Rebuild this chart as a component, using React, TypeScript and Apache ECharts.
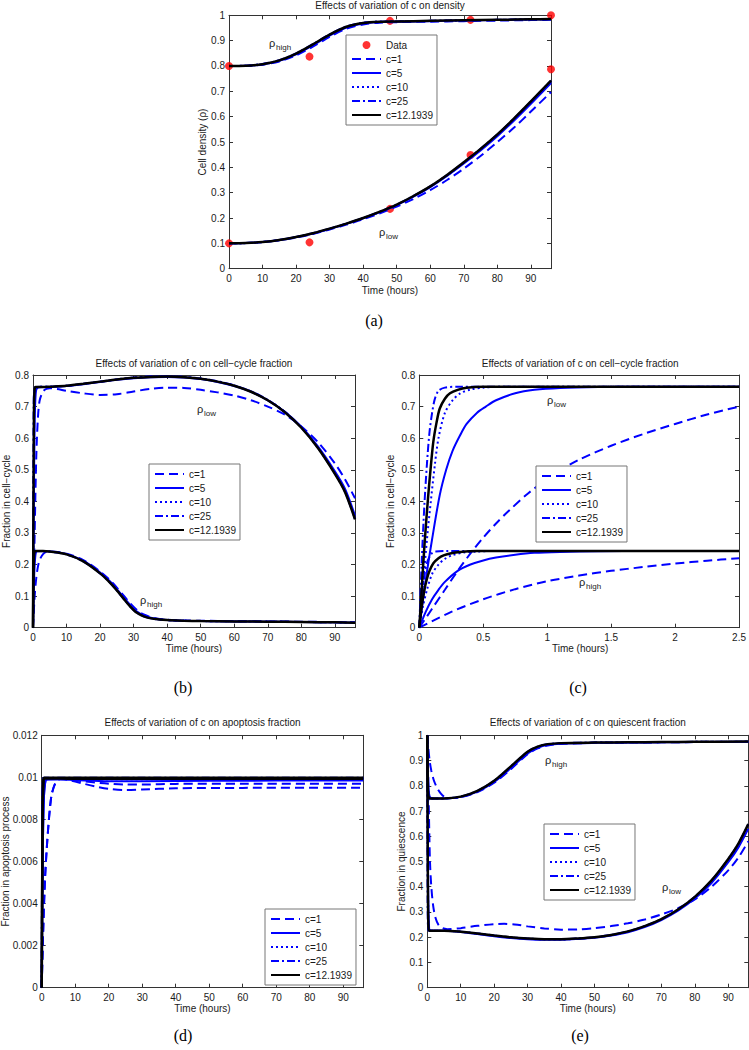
import React, { useEffect, useRef } from "react";
import * as echarts from "echarts";

type Pt = [number, number];

// ---------- (a) cell density ----------
const aDataHigh: Pt[] = [[0, 0.8], [24, 0.837], [48, 0.978], [72, 0.982], [96, 1.0]];
const aDataLow: Pt[] = [[0, 0.1], [24, 0.104], [48, 0.236], [72, 0.449], [96, 0.787]];
const aHighFit: Pt[] = [[0, 0.8], [5, 0.801], [10, 0.807], [15, 0.822], [20, 0.849], [25, 0.885], [30, 0.924], [35, 0.955], [40, 0.97], [45, 0.975], [50, 0.976], [60, 0.978], [70, 0.98], [80, 0.982], [90, 0.984], [96, 0.985]];
const aHighC1: Pt[] = [[0, 0.8], [5, 0.8], [10, 0.805], [15, 0.818], [20, 0.842], [25, 0.876], [30, 0.915], [35, 0.947], [40, 0.964], [45, 0.971], [50, 0.973], [60, 0.975], [70, 0.977], [80, 0.979], [90, 0.981], [96, 0.982]];
const aHighC5: Pt[] = [[0, 0.8], [5, 0.801], [10, 0.806], [15, 0.82], [20, 0.846], [25, 0.881], [30, 0.92], [35, 0.952], [40, 0.968], [45, 0.974], [50, 0.975], [60, 0.977], [70, 0.979], [80, 0.981], [90, 0.983], [96, 0.984]];
const aHighC10: Pt[] = [[0, 0.8], [5, 0.801], [10, 0.807], [15, 0.821], [20, 0.848], [25, 0.884], [30, 0.923], [35, 0.954], [40, 0.97], [45, 0.975], [50, 0.976], [60, 0.978], [70, 0.98], [80, 0.982], [90, 0.984], [96, 0.985]];
const aHighC25: Pt[] = [[0, 0.8], [5, 0.801], [10, 0.808], [15, 0.823], [20, 0.85], [25, 0.886], [30, 0.925], [35, 0.956], [40, 0.971], [45, 0.975], [50, 0.976], [60, 0.978], [70, 0.98], [80, 0.982], [90, 0.984], [96, 0.985]];
const aLowFit: Pt[] = [[0, 0.1], [5, 0.101], [10, 0.105], [15, 0.113], [20, 0.125], [25, 0.14], [30, 0.158], [35, 0.178], [40, 0.2], [45, 0.225], [50, 0.253], [55, 0.287], [60, 0.325], [65, 0.37], [70, 0.42], [75, 0.473], [80, 0.53], [85, 0.593], [90, 0.66], [96, 0.742]];
const aLowC1: Pt[] = [[0, 0.1], [5, 0.101], [10, 0.105], [15, 0.112], [20, 0.123], [25, 0.137], [30, 0.155], [35, 0.174], [40, 0.195], [45, 0.219], [50, 0.245], [55, 0.275], [60, 0.31], [65, 0.35], [70, 0.395], [75, 0.445], [80, 0.5], [85, 0.557], [90, 0.62], [96, 0.697]];
const aLowC5: Pt[] = [[0, 0.1], [5, 0.101], [10, 0.105], [15, 0.113], [20, 0.125], [25, 0.139], [30, 0.157], [35, 0.177], [40, 0.199], [45, 0.223], [50, 0.251], [55, 0.284], [60, 0.322], [65, 0.366], [70, 0.415], [75, 0.467], [80, 0.523], [85, 0.585], [90, 0.651], [96, 0.733]];
const aLowC10: Pt[] = [[0, 0.1], [5, 0.101], [10, 0.105], [15, 0.113], [20, 0.125], [25, 0.14], [30, 0.158], [35, 0.178], [40, 0.2], [45, 0.224], [50, 0.252], [55, 0.286], [60, 0.324], [65, 0.368], [70, 0.418], [75, 0.471], [80, 0.528], [85, 0.59], [90, 0.657], [96, 0.739]];
const aLowC25: Pt[] = [[0, 0.1], [5, 0.101], [10, 0.105], [15, 0.113], [20, 0.125], [25, 0.14], [30, 0.158], [35, 0.178], [40, 0.2], [45, 0.225], [50, 0.253], [55, 0.287], [60, 0.325], [65, 0.37], [70, 0.42], [75, 0.473], [80, 0.53], [85, 0.593], [90, 0.66], [96, 0.742]];

// ---------- (b) cell-cycle fraction, 0-96 h ----------
const bLowFit: Pt[] = [[0, 0], [0.15, 0.45], [0.3, 0.7], [0.5, 0.755], [0.8, 0.762], [3, 0.762], [5, 0.763], [10, 0.766], [15, 0.772], [20, 0.779], [25, 0.786], [30, 0.791], [35, 0.794], [40, 0.795], [45, 0.793], [50, 0.788], [55, 0.779], [60, 0.766], [65, 0.747], [70, 0.72], [75, 0.683], [80, 0.633], [85, 0.568], [90, 0.487], [93, 0.43], [96, 0.343]];
const bLowC1: Pt[] = [[0, 0], [0.5, 0.3], [1, 0.55], [1.5, 0.67], [2, 0.72], [3, 0.748], [4, 0.756], [5, 0.758], [7, 0.756], [10, 0.75], [15, 0.742], [20, 0.737], [25, 0.739], [30, 0.748], [35, 0.756], [40, 0.76], [45, 0.759], [50, 0.753], [55, 0.745], [60, 0.735], [65, 0.72], [70, 0.7], [75, 0.675], [80, 0.637], [85, 0.587], [90, 0.52], [93, 0.47], [96, 0.41]];
const bLowC5: Pt[] = [[0, 0], [0.25, 0.4], [0.5, 0.65], [0.8, 0.74], [1.2, 0.758], [3, 0.762], [5, 0.762], [10, 0.765], [15, 0.771], [20, 0.778], [25, 0.785], [30, 0.79], [35, 0.793], [40, 0.794], [45, 0.792], [50, 0.787], [55, 0.778], [60, 0.765], [65, 0.747], [70, 0.72], [75, 0.684], [80, 0.636], [85, 0.573], [90, 0.495], [93, 0.44], [96, 0.355]];
const bLowC10: Pt[] = [[0, 0], [0.2, 0.42], [0.4, 0.7], [0.7, 0.758], [1, 0.762], [5, 0.763], [10, 0.766], [15, 0.772], [20, 0.779], [25, 0.786], [30, 0.792], [35, 0.795], [40, 0.796], [45, 0.794], [50, 0.789], [55, 0.78], [60, 0.767], [65, 0.748], [70, 0.721], [75, 0.684], [80, 0.634], [85, 0.569], [90, 0.488], [93, 0.432], [96, 0.345]];
const bLowC25: Pt[] = [[0, 0], [0.1, 0.45], [0.2, 0.7], [0.4, 0.76], [1, 0.762], [5, 0.763], [10, 0.766], [15, 0.772], [20, 0.779], [25, 0.786], [30, 0.792], [35, 0.795], [40, 0.796], [45, 0.794], [50, 0.789], [55, 0.78], [60, 0.767], [65, 0.748], [70, 0.721], [75, 0.684], [80, 0.634], [85, 0.569], [90, 0.488], [93, 0.431], [96, 0.344]];
const bHighFit: Pt[] = [[0, 0], [0.15, 0.15], [0.3, 0.225], [0.5, 0.241], [1, 0.243], [3, 0.243], [5, 0.241], [10, 0.232], [15, 0.21], [20, 0.172], [23, 0.142], [25, 0.118], [27, 0.092], [29, 0.067], [31, 0.047], [33, 0.036], [36, 0.028], [40, 0.024], [45, 0.022], [50, 0.021], [60, 0.02], [70, 0.019], [80, 0.018], [90, 0.017], [96, 0.016]];
const bHighC1: Pt[] = [[0, 0], [0.5, 0.1], [1, 0.16], [1.5, 0.195], [2, 0.215], [3, 0.233], [4, 0.24], [5, 0.241], [10, 0.234], [15, 0.214], [20, 0.178], [23, 0.15], [25, 0.127], [27, 0.102], [29, 0.077], [31, 0.056], [33, 0.042], [36, 0.031], [40, 0.025], [45, 0.023], [50, 0.022], [60, 0.021], [70, 0.02], [80, 0.019], [90, 0.018], [96, 0.017]];
const bHighC5: Pt[] = [[0, 0], [0.25, 0.13], [0.5, 0.2], [0.8, 0.235], [1.2, 0.242], [3, 0.243], [5, 0.241], [10, 0.233], [15, 0.212], [20, 0.175], [23, 0.146], [25, 0.122], [27, 0.097], [29, 0.072], [31, 0.051], [33, 0.039], [36, 0.029], [40, 0.024], [45, 0.022], [50, 0.021], [60, 0.02], [70, 0.019], [80, 0.018], [90, 0.017], [96, 0.016]];
const bHighC10: Pt[] = [[0, 0], [0.2, 0.15], [0.4, 0.226], [0.7, 0.242], [1, 0.243], [5, 0.241], [10, 0.232], [15, 0.21], [20, 0.173], [23, 0.143], [25, 0.119], [27, 0.093], [29, 0.068], [31, 0.048], [33, 0.037], [36, 0.028], [40, 0.024], [45, 0.022], [50, 0.021], [60, 0.02], [70, 0.019], [80, 0.018], [90, 0.017], [96, 0.016]];
const bHighC25: Pt[] = [[0, 0], [0.1, 0.16], [0.2, 0.228], [0.4, 0.243], [1, 0.243], [5, 0.241], [10, 0.232], [15, 0.21], [20, 0.172], [23, 0.142], [25, 0.118], [27, 0.092], [29, 0.067], [31, 0.047], [33, 0.036], [36, 0.028], [40, 0.024], [45, 0.022], [50, 0.021], [60, 0.02], [70, 0.019], [80, 0.018], [90, 0.017], [96, 0.016]];

// ---------- (c) cell-cycle fraction, 0-2.5 h ----------
const cLowFit: Pt[] = [[0, 0], [0.02, 0.13], [0.04, 0.26], [0.07, 0.42], [0.09, 0.51], [0.11, 0.59], [0.135, 0.65], [0.16, 0.694], [0.2, 0.725], [0.24, 0.742], [0.3, 0.753], [0.37, 0.76], [0.5, 0.763], [1, 0.763], [2.5, 0.763]];
const cLowC1: Pt[] = [[0, 0], [0.1, 0.06], [0.2, 0.12], [0.3, 0.18], [0.4, 0.235], [0.5, 0.285], [0.6, 0.33], [0.7, 0.37], [0.85, 0.425], [1.05, 0.485], [1.25, 0.532], [1.5, 0.576], [1.75, 0.613], [2, 0.645], [2.25, 0.675], [2.5, 0.7]];
const cLowC5: Pt[] = [[0, 0], [0.05, 0.15], [0.1, 0.28], [0.16, 0.42], [0.21, 0.5], [0.26, 0.56], [0.32, 0.61], [0.37, 0.645], [0.45, 0.68], [0.52, 0.7], [0.6, 0.72], [0.75, 0.742], [0.9, 0.753], [1.1, 0.759], [1.4, 0.762], [1.8, 0.763], [2.5, 0.763]];
const cLowC10: Pt[] = [[0, 0], [0.03, 0.14], [0.06, 0.28], [0.09, 0.4], [0.12, 0.51], [0.15, 0.6], [0.2, 0.68], [0.26, 0.72], [0.32, 0.742], [0.4, 0.754], [0.5, 0.76], [0.7, 0.763], [1, 0.763], [2.5, 0.763]];
const cLowC25: Pt[] = [[0, 0], [0.02, 0.22], [0.04, 0.39], [0.06, 0.52], [0.08, 0.62], [0.1, 0.68], [0.12, 0.722], [0.15, 0.75], [0.2, 0.76], [0.3, 0.763], [1, 0.763], [2.5, 0.763]];
const cHighFit: Pt[] = [[0, 0], [0.02, 0.07], [0.04, 0.12], [0.06, 0.155], [0.08, 0.18], [0.11, 0.204], [0.15, 0.22], [0.19, 0.229], [0.25, 0.236], [0.32, 0.24], [0.45, 0.243], [1, 0.243], [2.5, 0.243]];
const cHighC1: Pt[] = [[0, 0], [0.25, 0.05], [0.5, 0.09], [0.75, 0.122], [1, 0.147], [1.25, 0.165], [1.5, 0.18], [1.75, 0.192], [2, 0.203], [2.25, 0.212], [2.5, 0.22]];
const cHighC5: Pt[] = [[0, 0], [0.05, 0.05], [0.1, 0.09], [0.15, 0.12], [0.2, 0.145], [0.3, 0.18], [0.4, 0.2], [0.5, 0.213], [0.6, 0.222], [0.75, 0.231], [0.9, 0.237], [1.1, 0.24], [1.4, 0.242], [1.8, 0.243], [2.5, 0.243]];
const cHighC10: Pt[] = [[0, 0], [0.03, 0.07], [0.06, 0.12], [0.1, 0.17], [0.15, 0.2], [0.2, 0.218], [0.26, 0.23], [0.35, 0.238], [0.45, 0.241], [0.6, 0.243], [1, 0.243], [2.5, 0.243]];
const cHighC25: Pt[] = [[0, 0], [0.02, 0.1], [0.04, 0.165], [0.06, 0.205], [0.08, 0.225], [0.1, 0.236], [0.13, 0.241], [0.2, 0.243], [1, 0.243], [2.5, 0.243]];

// ---------- (d) apoptosis fraction ----------
const dFitA: Pt[] = [[0, 0], [0.15, 0.005], [0.3, 0.0085], [0.5, 0.0098], [0.8, 0.00998], [10, 0.00998], [40, 0.00998], [96, 0.00998]];
const dFitB: Pt[] = [[0, 0], [0.15, 0.005], [0.3, 0.0085], [0.5, 0.0098], [0.8, 0.00995], [10, 0.00993], [40, 0.00994], [96, 0.00994]];
const dC1A: Pt[] = [[0, 0], [0.5, 0.003], [1, 0.0052], [1.5, 0.0066], [2, 0.0077], [2.5, 0.0086], [3, 0.0092], [4, 0.0097], [5, 0.0099], [6, 0.00993], [8, 0.0099], [12, 0.00982], [16, 0.00975], [20, 0.0097], [25, 0.00966], [30, 0.00966], [40, 0.00969], [60, 0.0097], [96, 0.0097]];
const dC1B: Pt[] = [[0, 0], [0.5, 0.003], [1, 0.0052], [1.5, 0.0066], [2, 0.0077], [2.5, 0.0086], [3, 0.0092], [4, 0.0097], [5, 0.0099], [6, 0.00993], [8, 0.00988], [12, 0.00972], [16, 0.00957], [20, 0.00946], [25, 0.0094], [30, 0.00942], [40, 0.00948], [60, 0.0095], [96, 0.00951]];
const dC5A: Pt[] = [[0, 0], [0.3, 0.006], [0.6, 0.0088], [1, 0.0097], [1.5, 0.0099], [5, 0.00992], [96, 0.00992]];
const dC5B: Pt[] = [[0, 0], [0.3, 0.006], [0.6, 0.0088], [1, 0.0097], [1.5, 0.0099], [5, 0.0099], [10, 0.00987], [20, 0.00982], [30, 0.00982], [50, 0.00984], [96, 0.00985]];
const dC10A: Pt[] = [[0, 0], [0.2, 0.0055], [0.4, 0.0088], [0.7, 0.0098], [1, 0.00996], [96, 0.00996]];
const dC10B: Pt[] = [[0, 0], [0.2, 0.0055], [0.4, 0.0088], [0.7, 0.0098], [1, 0.00993], [20, 0.00991], [96, 0.00992]];
const dC25A: Pt[] = [[0, 0], [0.1, 0.005], [0.2, 0.0085], [0.4, 0.0099], [0.6, 0.00998], [96, 0.00998]];
const dC25B: Pt[] = [[0, 0], [0.1, 0.005], [0.2, 0.0085], [0.4, 0.0099], [0.6, 0.00995], [96, 0.00995]];

// ---------- (e) quiescent fraction ----------
const eHighFit: Pt[] = [[0, 1], [0.1, 0.85], [0.25, 0.77], [0.5, 0.752], [1, 0.75], [5, 0.75], [10, 0.757], [15, 0.78], [20, 0.82], [25, 0.877], [30, 0.935], [33, 0.955], [36, 0.965], [40, 0.969], [50, 0.971], [60, 0.972], [70, 0.973], [80, 0.974], [96, 0.975]];
const eHighC1: Pt[] = [[0, 1], [0.3, 0.95], [0.7, 0.9], [1.2, 0.86], [2, 0.82], [3, 0.79], [4, 0.77], [5, 0.757], [6, 0.752], [8, 0.752], [10, 0.755], [15, 0.775], [20, 0.812], [25, 0.866], [30, 0.925], [33, 0.948], [36, 0.96], [40, 0.966], [50, 0.97], [60, 0.971], [70, 0.972], [80, 0.973], [96, 0.974]];
const eHighC5: Pt[] = [[0, 1], [0.2, 0.85], [0.5, 0.77], [1, 0.752], [2, 0.75], [5, 0.75], [10, 0.756], [15, 0.777], [20, 0.815], [25, 0.87], [30, 0.928], [33, 0.95], [36, 0.962], [40, 0.967], [50, 0.97], [60, 0.971], [70, 0.972], [80, 0.973], [96, 0.974]];
const eHighC10: Pt[] = [[0, 1], [0.15, 0.84], [0.35, 0.765], [0.7, 0.751], [1, 0.75], [5, 0.75], [10, 0.757], [15, 0.779], [20, 0.819], [25, 0.875], [30, 0.933], [33, 0.954], [36, 0.964], [40, 0.968], [50, 0.971], [60, 0.972], [70, 0.973], [80, 0.974], [96, 0.975]];
const eHighC25: Pt[] = [[0, 1], [0.05, 0.85], [0.15, 0.77], [0.3, 0.752], [1, 0.75], [5, 0.75], [10, 0.757], [15, 0.78], [20, 0.82], [25, 0.877], [30, 0.935], [33, 0.955], [36, 0.965], [40, 0.969], [50, 0.971], [60, 0.972], [70, 0.973], [80, 0.974], [96, 0.975]];
const eLowFit: Pt[] = [[0, 1], [0.1, 0.6], [0.2, 0.35], [0.35, 0.24], [0.6, 0.226], [5, 0.226], [10, 0.222], [15, 0.215], [20, 0.207], [25, 0.2], [30, 0.195], [35, 0.192], [40, 0.192], [45, 0.195], [50, 0.2], [55, 0.209], [60, 0.223], [65, 0.244], [70, 0.272], [75, 0.31], [80, 0.36], [85, 0.425], [90, 0.51], [93, 0.57], [96, 0.648]];
const eLowC1: Pt[] = [[0, 1], [0.25, 0.85], [0.5, 0.68], [0.8, 0.5], [1.2, 0.4], [1.8, 0.32], [2.5, 0.275], [3.3, 0.25], [4.5, 0.236], [6, 0.232], [10, 0.236], [15, 0.245], [20, 0.252], [23, 0.253], [27, 0.249], [30, 0.243], [35, 0.235], [40, 0.23], [45, 0.231], [50, 0.236], [55, 0.244], [60, 0.255], [65, 0.27], [70, 0.29], [75, 0.315], [80, 0.35], [85, 0.4], [90, 0.465], [93, 0.515], [96, 0.58]];
const eLowC5: Pt[] = [[0, 1], [0.15, 0.6], [0.3, 0.35], [0.5, 0.25], [0.8, 0.228], [5, 0.226], [10, 0.221], [15, 0.213], [20, 0.204], [25, 0.197], [30, 0.192], [35, 0.19], [40, 0.19], [45, 0.193], [50, 0.198], [55, 0.207], [60, 0.22], [65, 0.24], [70, 0.268], [75, 0.305], [80, 0.353], [85, 0.415], [90, 0.497], [93, 0.555], [96, 0.63]];
const eLowC10: Pt[] = [[0, 1], [0.12, 0.6], [0.25, 0.34], [0.4, 0.24], [0.7, 0.226], [5, 0.226], [10, 0.222], [15, 0.214], [20, 0.206], [25, 0.199], [30, 0.194], [35, 0.191], [40, 0.191], [45, 0.194], [50, 0.199], [55, 0.208], [60, 0.222], [65, 0.243], [70, 0.271], [75, 0.309], [80, 0.358], [85, 0.423], [90, 0.507], [93, 0.567], [96, 0.644]];
const eLowC25: Pt[] = [[0, 1], [0.05, 0.6], [0.1, 0.35], [0.2, 0.24], [0.4, 0.226], [5, 0.226], [10, 0.222], [15, 0.215], [20, 0.207], [25, 0.2], [30, 0.195], [35, 0.192], [40, 0.192], [45, 0.195], [50, 0.2], [55, 0.209], [60, 0.223], [65, 0.244], [70, 0.272], [75, 0.31], [80, 0.36], [85, 0.425], [90, 0.51], [93, 0.57], [96, 0.648]];

const NAMES = ["c=1", "c=5", "c=10", "c=25", "c=12.1939"];
const TITLES = [
  "Effects of variation of c on density",
  "Effects of variation of c on cell\u2212cycle fraction",
  "Effects of variation of c on cell\u2212cycle fraction",
  "Effects of variation of c on apoptosis fraction",
  "Effects of variation of c on quiescent fraction",
];
const YNAMES = ["Cell density (\u03c1)", "Fraction in cell\u2212cycle", "Fraction in cell\u2212cycle", "Fraction in apoptosis process", "Fraction in quiescence"];
const XNAME = "Time (hours)";
const CAPTIONS = ["(a)", "(b)", "(c)", "(d)", "(e)"];

const BLUE = "#0000ff";
const LINE_STYLES: Record<string, any> = {
  "c=1": { color: BLUE, width: 2, type: [9, 5] },
  "c=5": { color: BLUE, width: 2, type: "solid" },
  "c=10": { color: BLUE, width: 2, type: [2, 3] },
  "c=25": { color: BLUE, width: 2, type: [8, 3, 2, 3] },
  "c=12.1939": { color: "#000000", width: 2.5, type: "solid" },
};
const FONT = "'Liberation Sans', Arial, Helvetica, sans-serif";
const SERIF = "'Liberation Serif', 'DejaVu Serif', 'Times New Roman', serif";
const AX = "#333";
const TXT = "#1a1a1a";

const panels = [
  {
    grid: { left: 229, top: 15.3, width: 322, height: 253.4 },
    x: { min: 0, max: 96, interval: 10, showMax: false },
    y: { min: 0, max: 1, interval: 0.1, showMax: true },
    curves: [[aHighC1, aLowC1], [aHighC5, aLowC5], [aHighC10, aLowC10], [aHighC25, aLowC25], [aHighFit, aLowFit]],
    legend: { left: 346, top: 35 },
    titleY: 5, xNameY: 290, yNameX: 202, capX: 374, capY: 320,
    rho: [["high", 269, 43], ["low", 379, 232]],
  },
  {
    grid: { left: 33, top: 375, width: 322, height: 252.7 },
    x: { min: 0, max: 96, interval: 10, showMax: false },
    y: { min: 0, max: 0.8, interval: 0.1, showMax: true },
    curves: [[bLowC1, bHighC1], [bLowC5, bHighC5], [bLowC10, bHighC10], [bLowC25, bHighC25], [bLowFit, bHighFit]],
    legend: { left: 149, top: 464 },
    titleY: 363, xNameY: 648, yNameX: 6, capX: 183, capY: 687,
    rho: [["low", 197, 409], ["high", 140, 600]],
  },
  {
    grid: { left: 419.3, top: 375, width: 321.7, height: 252.7 },
    x: { min: 0, max: 2.5, interval: 0.5, showMax: true },
    y: { min: 0, max: 0.8, interval: 0.1, showMax: true },
    curves: [[cLowC1, cHighC1], [cLowC5, cHighC5], [cLowC10, cHighC10], [cLowC25, cHighC25], [cLowFit, cHighFit]],
    legend: { left: 536, top: 466 },
    titleY: 363, xNameY: 648, yNameX: 390, capX: 578, capY: 687,
    rho: [["low", 547, 400], ["high", 579, 582]],
  },
  {
    grid: { left: 41.7, top: 735.3, width: 321.6, height: 252.4 },
    x: { min: 0, max: 96, interval: 10, showMax: false },
    y: { min: 0, max: 0.012, interval: 0.002, showMax: true },
    curves: [[dC1A, dC1B], [dC5A, dC5B], [dC10A, dC10B], [dC25A, dC25B], [dFitA, dFitB]],
    legend: { left: 265, top: 909 },
    titleY: 722, xNameY: 1008, yNameX: 5, capX: 183, capY: 1035,
    rho: [],
  },
  {
    grid: { left: 427.3, top: 735.3, width: 321, height: 252.4 },
    x: { min: 0, max: 96, interval: 10, showMax: false },
    y: { min: 0, max: 1, interval: 0.1, showMax: true },
    curves: [[eHighC1, eLowC1], [eHighC5, eLowC5], [eHighC10, eLowC10], [eHighC25, eLowC25], [eHighFit, eLowFit]],
    legend: { left: 544, top: 824 },
    titleY: 722, xNameY: 1008, yNameX: 401, capX: 580, capY: 1035,
    rho: [["high", 545, 760], ["low", 662, 887]],
  },
];

function buildOption() {
  const grid: any[] = [];
  const xAxis: any[] = [];
  const yAxis: any[] = [];
  const series: any[] = [];
  const legend: any[] = [];
  const graphic: any[] = [];

  const text = (x: number, y: number, t: string, extra: any = {}, rot = 0) => ({
    type: "text",
    x,
    y,
    rotation: rot,
    silent: true,
    z: 100,
    style: { text: t, fontSize: 10, fill: TXT, fontFamily: FONT, align: "center", verticalAlign: "middle", ...extra },
  });

  panels.forEach((p, i) => {
    grid.push({ ...p.grid, containLabel: false, show: true, backgroundColor: "#fff", borderWidth: 0 });
    const common = (ax: any) => ({
      type: "value",
      gridIndex: i,
      min: ax.min,
      max: ax.max,
      interval: ax.interval,
      splitLine: { show: false },
      axisLine: { show: true, onZero: false, lineStyle: { color: AX, width: 1 } },
      axisTick: { show: true, inside: true, length: 4, lineStyle: { color: AX, width: 1 } },
    });
    xAxis.push({ ...common(p.x), position: "bottom", axisLabel: { fontSize: 10, color: TXT, fontFamily: FONT, margin: 5, showMaxLabel: p.x.showMax, showMinLabel: true } });
    xAxis.push({ ...common(p.x), position: "top", axisLabel: { show: false } });
    yAxis.push({ ...common(p.y), position: "left", axisLabel: { fontSize: 10, color: TXT, fontFamily: FONT, margin: 4, showMaxLabel: p.y.showMax, showMinLabel: true } });
    yAxis.push({ ...common(p.y), position: "right", axisLabel: { show: false } });

    if (i === 0) {
      series.push({
        type: "scatter",
        name: "Data",
        xAxisIndex: 0,
        yAxisIndex: 0,
        data: [...aDataHigh, ...aDataLow],
        symbol: "circle",
        symbolSize: 8,
        clip: false,
        itemStyle: { color: "#ff0000" },
        z: 2,
      });
    }
    NAMES.forEach((name, j) => {
      p.curves[j].forEach((curve) => {
        series.push({
          type: "line",
          name,
          xAxisIndex: 2 * i,
          yAxisIndex: 2 * i,
          data: curve,
          symbol: "none",
          showSymbol: false,
          smooth: 0.3,
          lineStyle: LINE_STYLES[name],
          itemStyle: { color: LINE_STYLES[name].color },
          z: j === 4 ? 4 : 3,
        });
      });
    });

    const lineItems = NAMES.map((n) => ({ name: n, itemStyle: { opacity: 0 } }));
    legend.push({
      orient: "vertical",
      left: p.legend.left,
      top: p.legend.top,
      data: i === 0 ? [{ name: "Data", icon: "circle", itemStyle: { color: "#ff0000" } }, ...lineItems] : lineItems,
      itemWidth: 29,
      itemHeight: 8,
      itemGap: 4,
      padding: [5, 4, 5, 5],
      borderColor: "#777",
      borderWidth: 1,
      borderRadius: 0,
      backgroundColor: "#fff",
      selectedMode: false,
      textStyle: { fontSize: 10, color: TXT, fontFamily: FONT },
      z: 20,
    });

    const cx = p.grid.left + p.grid.width / 2;
    const cy = p.grid.top + p.grid.height / 2;
    graphic.push(text(cx, p.titleY, TITLES[i]));
    graphic.push(text(cx, p.xNameY, XNAME));
    graphic.push(text(p.yNameX, cy, YNAMES[i], {}, Math.PI / 2));
    graphic.push(text(p.capX, p.capY, CAPTIONS[i], { fontSize: 16, fontFamily: SERIF, fill: "#000" }));
    (p.rho as any[]).forEach(([sub, x, y]) => {
      graphic.push(text(x, y, "\u03c1", { fontSize: 11, align: "left" }));
      graphic.push(text(x + 7, y + 4, sub, { fontSize: 8, align: "left" }));
    });
  });

  return { animation: false, backgroundColor: "#ffffff", grid, xAxis, yAxis, series, legend, graphic };
}

export default function App() {
  const ref = useRef<HTMLDivElement>(null);
  useEffect(() => {
    if (!ref.current) return;
    const chart = echarts.init(ref.current, undefined, { renderer: "svg" });
    chart.setOption(buildOption() as any);
    return () => chart.dispose();
  }, []);
  return <div ref={ref} style={{ position: "absolute", left: 0, top: 0, width: 749, height: 1050, background: "#fff" }} />;
}
